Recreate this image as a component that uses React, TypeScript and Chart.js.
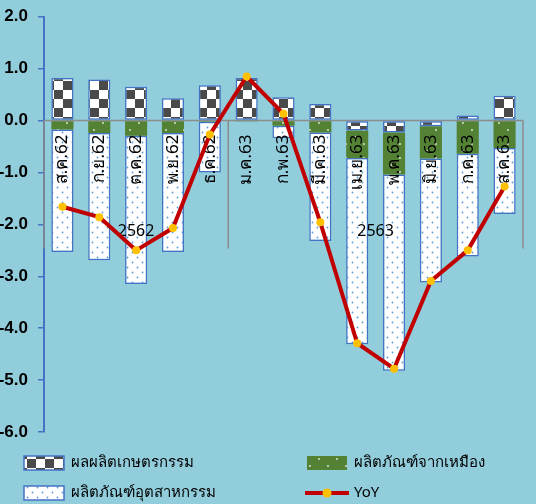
import React, { useEffect, useRef } from "react";
import { Chart, registerables } from "chart.js";

Chart.register(...registerables);

const categories = ["ส.ค.62", "ก.ย.62", "ต.ค.62", "พ.ย.62", "ธ.ค.62", "ม.ค.63", "ก.พ.63", "มี.ค.63", "เม.ย.63", "พ.ค.63", "มิ.ย.63", "ก.ค.63", "ส.ค.63"];
const agriculture = [0.82, 0.79, 0.65, 0.43, 0.68, 0.82, 0.45, 0.32, -0.19, -0.23, -0.11, 0.1, 0.48];
const mining = [-0.17, -0.24, -0.29, -0.24, -0.02, -0.01, -0.1, -0.23, -0.53, -0.81, -0.62, -0.64, -0.53];
const industry = [-2.36, -2.45, -2.86, -2.29, -0.98, 0.0, -0.24, -2.09, -3.59, -3.78, -2.39, -1.98, -1.27];
const yoy = [-1.66, -1.86, -2.5, -2.07, -0.27, 0.85, 0.13, -1.96, -4.29, -4.78, -3.09, -2.5, -1.27];
const years = ["2562", "2563"];
const yearCounts = [5, 8];
const seriesNames = ["ผลผลิตเกษตรกรรม", "ผลิตภัณฑ์จากเหมือง", "ผลิตภัณฑ์อุตสาหกรรม", "YoY"];

const BG = "#92CDDC";
const BLUE = "#4472C4";
const GREEN = "#548235";
const RED = "#C00000";
const ORANGE = "#FFC000";
const THAI_FONT = "Tahoma, 'Noto Sans', 'DejaVu Sans', sans-serif";

function makePattern(w: number, h: number, draw: (c: CanvasRenderingContext2D) => void) {
  const cv = document.createElement("canvas");
  cv.width = w;
  cv.height = h;
  const c = cv.getContext("2d")!;
  draw(c);
  const p = document.createElement("canvas").getContext("2d")!.createPattern(cv, "repeat");
  return p!;
}

export default function App() {
  const ref = useRef<HTMLCanvasElement | null>(null);

  useEffect(() => {
    document.body.style.margin = "0";
    const canvas = ref.current!;

    const checker = makePattern(18, 18, (c) => {
      c.fillStyle = "#ffffff";
      c.fillRect(0, 0, 18, 18);
      c.fillStyle = "#4a4a4a";
      c.fillRect(0, 0, 9, 9);
      c.fillRect(9, 9, 9, 9);
    });
    const greenDots = makePattern(18, 14, (c) => {
      c.fillStyle = GREEN;
      c.fillRect(0, 0, 18, 14);
      c.fillStyle = "rgba(255,255,255,0.85)";
      c.beginPath();
      c.arc(4, 4, 0.9, 0, Math.PI * 2);
      c.arc(13, 11, 0.9, 0, Math.PI * 2);
      c.fill();
    });
    const blueDots = makePattern(10, 10, (c) => {
      c.fillStyle = "#ffffff";
      c.fillRect(0, 0, 10, 10);
      c.fillStyle = "#5B9BD5";
      c.beginPath();
      c.arc(2.5, 2.5, 0.9, 0, Math.PI * 2);
      c.fill();
      c.beginPath();
      c.arc(7.5, 7.5, 0.9, 0, Math.PI * 2);
      c.fill();
    });

    const overlay = {
      id: "overlay",
      beforeDraw(chart: any) {
        const ctx = chart.ctx;
        ctx.save();
        ctx.fillStyle = BG;
        ctx.fillRect(0, 0, chart.width, chart.height);
        ctx.restore();
      },
      beforeDatasetsDraw(chart: any) {
        const ctx = chart.ctx;
        const xs = chart.scales.x;
        const ys = chart.scales.y;
        const y0 = ys.getPixelForValue(0);
        const area = chart.chartArea;
        ctx.save();
        ctx.strokeStyle = "#8c8c8c";
        ctx.lineWidth = 1.5;
        ctx.beginPath();
        ctx.moveTo(area.left, y0);
        ctx.lineTo(area.right, y0);
        const step = xs.getPixelForValue(1) - xs.getPixelForValue(0);
        let idx = 0;
        const bounds = [xs.getPixelForValue(0) - step / 2];
        yearCounts.forEach((n) => {
          idx += n;
          bounds.push(xs.getPixelForValue(idx - 1) + step / 2);
        });
        bounds.forEach((bx) => {
          ctx.moveTo(bx, y0);
          ctx.lineTo(bx, y0 + 128);
        });
        ctx.stroke();
        ctx.restore();
      },
      beforeDatasetDraw(chart: any, args: any) {
        if (args.index !== 3) return;
        const ctx = chart.ctx;
        const xs = chart.scales.x;
        const ys = chart.scales.y;
        const y0 = ys.getPixelForValue(0);
        ctx.save();
        ctx.fillStyle = "#000000";
        ctx.font = "17px " + THAI_FONT;
        categories.forEach((lab, i) => {
          const x = xs.getPixelForValue(i);
          ctx.save();
          ctx.translate(x, y0 + 14);
          ctx.rotate(-Math.PI / 2);
          ctx.textAlign = "right";
          ctx.textBaseline = "middle";
          ctx.fillText(lab, 0, 0);
          ctx.restore();
        });
        const step = xs.getPixelForValue(1) - xs.getPixelForValue(0);
        let start = 0;
        ctx.font = "16px " + THAI_FONT;
        years.forEach((yr, k) => {
          const l = xs.getPixelForValue(start) - step / 2;
          const r = xs.getPixelForValue(start + yearCounts[k] - 1) + step / 2;
          start += yearCounts[k];
          ctx.textAlign = "center";
          ctx.textBaseline = "middle";
          ctx.fillText(yr, (l + r) / 2, y0 + 111);
        });
        ctx.restore();
      },
      afterDraw(chart: any) {
        const ctx = chart.ctx;
        ctx.save();
        ctx.font = "15px " + THAI_FONT;
        ctx.textBaseline = "middle";
        ctx.textAlign = "left";
        const rows = [463, 493];
        const cols = [24, 307];
        const fills = [checker, greenDots, blueDots];
        const pos = [
          [cols[0], rows[0]],
          [cols[1], rows[0]],
          [cols[0], rows[1]],
          [cols[1], rows[1]],
        ];
        pos.forEach(([x, y], i) => {
          if (i < 3) {
            ctx.fillStyle = fills[i];
            ctx.fillRect(x, y - 7, 40, 14);
            if (i !== 1) {
              ctx.strokeStyle = BLUE;
              ctx.lineWidth = 1.5;
              ctx.strokeRect(x, y - 7, 40, 14);
            }
          } else {
            ctx.strokeStyle = RED;
            ctx.lineWidth = 4;
            ctx.beginPath();
            ctx.moveTo(x - 2, y);
            ctx.lineTo(x + 42, y);
            ctx.stroke();
            ctx.fillStyle = ORANGE;
            ctx.beginPath();
            ctx.arc(x + 20, y, 4.5, 0, Math.PI * 2);
            ctx.fill();
          }
          ctx.fillStyle = "#000000";
          ctx.fillText(seriesNames[i], x + 47, y);
        });
        ctx.restore();
      },
    };

    const chart = new Chart(canvas, {
      type: "bar",
      data: {
        labels: categories,
        datasets: [
          {
            label: seriesNames[0],
            data: agriculture,
            backgroundColor: checker,
            borderColor: BLUE,
            borderWidth: 1.5,
            borderSkipped: false,
            order: 1,
          } as any,
          {
            label: seriesNames[1],
            data: mining,
            backgroundColor: greenDots,
            borderWidth: 0,
            order: 1,
          },
          {
            label: seriesNames[2],
            data: industry,
            backgroundColor: blueDots,
            borderColor: BLUE,
            borderWidth: 1.5,
            borderSkipped: false,
            order: 1,
          },
          {
            type: "line",
            label: seriesNames[3],
            data: yoy,
            borderColor: RED,
            borderWidth: 4,
            pointBackgroundColor: ORANGE,
            pointBorderColor: ORANGE,
            pointRadius: 4,
            pointBorderWidth: 0,
            tension: 0,
            stack: "yoy",
            order: 0,
          } as any,
        ],
      },
      options: {
        responsive: false,
        animation: false,
        devicePixelRatio: 1,
        layout: { padding: { left: 0, right: 13, top: 10, bottom: 72 } },
        datasets: { bar: { categoryPercentage: 1, barPercentage: 0.6 } },
        plugins: { legend: { display: false }, tooltip: { enabled: false } },
        scales: {
          x: { stacked: true, display: false },
          y: {
            stacked: true,
            min: -6,
            max: 2,
            afterFit(scale: any) {
              scale.width = 44;
            },
            ticks: {
              stepSize: 1,
              padding: 10,
              color: "#000000",
              font: { family: "'Liberation Sans', Arial, sans-serif", size: 17, weight: "bold", lineHeight: 0.8 },
              callback: (v: any) => Number(v).toFixed(1),
            },
            grid: { drawOnChartArea: false, drawTicks: true, tickLength: 6, color: BLUE, lineWidth: 1.5 },
            border: { color: BLUE, width: 2 },
          },
        },
      } as any,
      plugins: [overlay],
    });

    return () => chart.destroy();
  }, []);

  return (
    <div style={{ width: 536, height: 504 }}>
      <canvas ref={ref} width={536} height={504} style={{ display: "block", width: 536, height: 504 }} />
    </div>
  );
}
